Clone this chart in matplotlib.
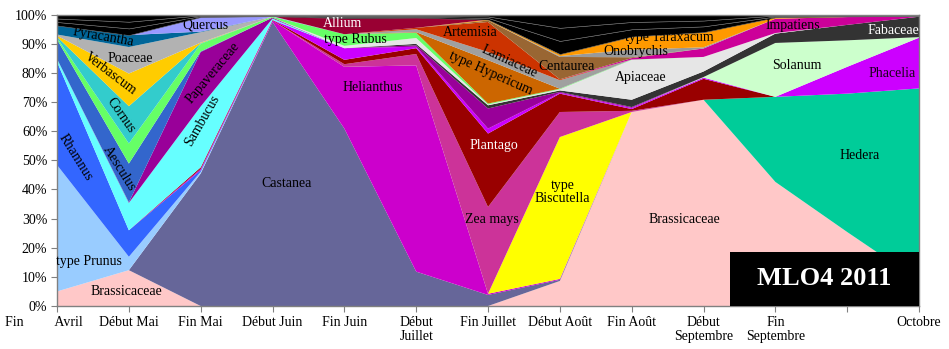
import matplotlib.pyplot as plt
from matplotlib.transforms import ScaledTranslation
from matplotlib.ticker import FuncFormatter

plt.rcParams['font.family'] = ['Liberation Serif', 'DejaVu Serif']

periods = ['Fin         Avril', 'Début Mai', 'Fin Mai', 'Début Juin', 'Fin Juin',
           'Début\nJuillet', 'Fin Juillet', 'Début Août', 'Fin Août',
           'Début\nSeptembre', 'Fin\nSeptembre', '', 'Octobre']

# % of pollen loads per period, bottom of the stack first
brassicaceae = [5.0, 12.3, 0, 0, 0, 0, 0, 8.6, 66.6, 70.8, 42.6, 25.4, 8.7]
castanea     = [0, 0, 45.5, 97.5, 60.9, 11.8, 3.8, 0.4, 0, 0, 0, 0, 0]
prunus       = [43.4, 4.6, 0.6, 0, 0, 0, 0, 0, 0, 0, 0, 0, 0]
rhamnus      = [35.4, 9.1, 0.5, 0, 0, 0, 0, 0, 0, 0, 0, 0, 0]
hedera       = [0, 0, 0, 0, 0, 0, 0, 0, 0, 0, 29.2, 47.5, 66.0]
helianthus   = [0, 0, 0.5, 0.5, 21.2, 70.8, 0.4, 0.3, 0, 0, 0, 0, 0]
biscutella   = [0, 0, 0, 0, 0, 0, 0, 48.7, 0, 0, 0, 0, 0]
zea_mays     = [0, 0, 0, 0, 0.9, 3.9, 29.8, 8.6, 0.4, 0, 0, 0, 0]
plantago     = [0, 0, 0.5, 0.2, 1.5, 2.0, 25.2, 6.3, 0.6, 7.2, 0, 0, 0]
phacelia     = [0, 0, 0, 0, 4.0, 0.5, 1.7, 0.3, 0.4, 0.4, 0, 9.2, 17.4]
solanum      = [0, 0, 0, 0, 0, 0, 0, 0, 0, 0.2, 18.5, 9.1, 0.2]
sambucus     = [1.0, 9.4, 20.9, 0.5, 0, 0, 0, 0, 0, 0, 0, 0, 0]
papaveraceae = [0, 0.2, 18.7, 0.3, 0, 0.5, 6.9, 0.3, 0.3, 0, 0, 0, 0]
aesculus     = [6.7, 13.3, 0.2, 0, 0, 0, 0, 0, 0, 0, 0, 0, 0]
fabaceae     = [0, 0, 0, 0, 0, 0.5, 1.1, 0.5, 2.5, 1.9, 3.2, 5.3, 7.0]
apiaceae     = [0, 0, 0, 0, 0.8, 2.0, 0.3, 0.4, 13.7, 5.0, 0.2, 0, 0]
rubus        = [0.5, 6.9, 2.6, 0.3, 4.0, 1.8, 0.3, 0.2, 0.1, 0, 0, 0, 0]
cornus       = [0.4, 12.8, 0.2, 0, 0, 0, 0, 0, 0, 0, 0, 0, 0]
verbascum    = [0.4, 11.2, 0.2, 0, 0, 0, 0, 0, 0, 0, 0, 0, 0]
poaceae      = [0.4, 9.1, 3.6, 0, 0, 0, 0, 0, 0, 0, 0, 0, 0]
pyracantha   = [3.1, 4.1, 0.2, 0, 0, 0, 0, 0, 0, 0, 0, 0, 0]
quercus      = [0, 0, 5.0, 0.2, 0, 0, 0, 0, 0, 0, 0, 0, 0]
hypericum    = [0, 0, 0, 0, 0, 0.2, 14.9, 0, 0, 0, 0, 0, 0]
lamiaceae    = [0, 0, 0, 0, 0, 1.0, 2.8, 2.9, 0, 0, 0, 0, 0]
artemisia    = [0, 0, 0, 0, 0, 0.5, 10.3, 0.3, 0, 0, 0, 0, 0]
impatiens    = [0, 0, 0, 0, 0, 0, 0, 0, 0.5, 2.9, 4.9, 2.7, 0.3]
centaurea    = [0, 0, 0, 0, 0, 0, 0.5, 7.7, 0.3, 0, 0, 0, 0]
onobrychis   = [0, 0, 0, 0, 0, 0, 0, 0.3, 2.6, 0.4, 0, 0, 0]
taraxacum    = [0, 0, 0, 0, 0, 0, 0.3, 0.7, 4.5, 5.2, 0.5, 0.2, 0]
allium       = [0, 0, 0, 0, 5.5, 3.5, 0, 0, 0, 0, 0, 0, 0]
autres_a     = [1.2, 2.3, 0.3, 0.2, 0.4, 0.3, 0.6, 4.5, 2.5, 2.0, 0.3, 0.2, 0.1]
autres_b     = [1.2, 2.3, 0.3, 0.2, 0.4, 0.3, 0.5, 4.5, 2.5, 2.0, 0.3, 0.2, 0.1]
autres_c     = [1.3, 2.4, 0.2, 0.1, 0.4, 0.4, 0.6, 4.5, 2.5, 2.0, 0.3, 0.2, 0.2]

layers = [
    (brassicaceae, '#FFC8C8'), (castanea, '#666699'), (prunus, '#99CCFF'),
    (rhamnus, '#3366FF'), (hedera, '#00CC99'), (helianthus, '#CC00CC'),
    (biscutella, '#FFFF00'), (zea_mays, '#CC3399'), (plantago, '#990000'),
    (phacelia, '#CC00FF'), (solanum, '#CCFFCC'), (sambucus, '#66FFFF'),
    (papaveraceae, '#990099'), (aesculus, '#3366CC'), (fabaceae, '#333333'),
    (apiaceae, '#E6E6E6'), (rubus, '#66FF66'), (cornus, '#33CCCC'),
    (verbascum, '#FFCC00'), (poaceae, '#B2B2B2'), (pyracantha, '#006699'),
    (quercus, '#9999FF'), (hypericum, '#CC6600'), (lamiaceae, '#A0A0A0'),
    (artemisia, '#CC3300'), (impatiens, '#CC0099'), (centaurea, '#996633'),
    (onobrychis, '#999999'), (taraxacum, '#FF9900'), (allium, '#990033'),
    (autres_a, '#000000'), (autres_b, '#000000'), (autres_c, '#000000'),
]

x = list(range(len(periods)))

fig = plt.figure(figsize=(9.49, 3.49), dpi=100)
ax = fig.add_axes([0.0601, 0.1232, 0.9083, 0.8347])

polys = ax.stackplot(x, [v for v, c in layers], colors=[c for v, c in layers],
                     linewidth=0)
for p in polys[-3:]:
    p.set_edgecolor('#707070')
    p.set_linewidth(0.4)

ax.set_xlim(0, 12)
ax.set_ylim(0, 100)
ax.set_yticks(range(0, 101, 10))
ax.yaxis.set_major_formatter(FuncFormatter(lambda v, pos: '%d%%' % v))
ax.set_xticks(x)
ax.set_xticklabels(periods, fontsize=10, linespacing=1.1)
ax.tick_params(axis='both', direction='out', length=4, color='#808080',
               labelsize=10, pad=3)
for s in ax.spines.values():
    s.set_color('#808080')
    s.set_linewidth(1)
lbl0 = ax.get_xticklabels()[0]
lbl0.set_transform(lbl0.get_transform() + ScaledTranslation(-0.135, 0, fig.dpi_scale_trans))

# taxon labels: text, x, y, rotation, colour
labels = [
    ('Pyracantha', 0.65, 92.4, -10, 'black'),
    ('Quercus', 2.06, 96.3, 0, 'black'),
    ('Poaceae', 1.02, 85.0, 0, 'black'),
    ('Verbascum', 0.75, 79.6, -37, 'black'),
    ('Cornus', 0.88, 65.5, -55, 'black'),
    ('Aesculus', 0.86, 47.3, -58, 'black'),
    ('Rhamnus', 0.25, 51.1, -58, 'black'),
    ('type Prunus', 0.45, 15.4, 0, 'black'),
    ('Brassicaceae', 0.96, 5.1, 0, 'black'),
    ('Sambucus', 2.02, 63.8, 60, 'black'),
    ('Papaveraceae', 2.17, 80.2, 50, 'black'),
    ('Castanea', 3.19, 42.2, 0, 'black'),
    ('Allium', 3.97, 97.0, 0, 'white'),
    ('type Rubus', 4.15, 91.6, 0, 'black'),
    ('Helianthus', 4.39, 75.1, 0, 'black'),
    ('Artemisia', 5.75, 94.0, 0, 'black'),
    ('Lamiaceae', 6.29, 84.0, -25, 'black'),
    ('type Hypericum', 6.03, 79.9, -24, 'black'),
    ('Centaurea', 7.09, 82.3, 0, 'black'),
    ('Plantago', 6.08, 55.2, 0, 'white'),
    ('Zea mays', 6.06, 29.8, 0, 'black'),
    ('type\nBiscutella', 7.04, 39.1, 0, 'black'),
    ('Brassicaceae', 8.73, 29.8, 0, 'black'),
    ('Apiaceae', 8.12, 78.4, 0, 'black'),
    ('Onobrychis', 8.06, 87.4, 0, 'black'),
    ('type Taraxacum', 8.53, 92.2, 0, 'black'),
    ('Impatiens', 10.25, 96.4, 0, 'black'),
    ('Solanum', 10.30, 82.7, 0, 'black'),
    ('Fabaceae', 11.64, 94.7, 0, 'white'),
    ('Phacelia', 11.62, 79.9, 0, '#1A001A'),
    ('Hedera', 11.18, 51.8, 0, 'black'),
]
for txt, lx, ly, rot, col in labels:
    ax.text(lx, ly, txt, rotation=rot, color=col, fontsize=10,
            ha='center', va='center', linespacing=1.0,
            rotation_mode='anchor')

ax.add_patch(plt.Rectangle((0.781, 0), 0.219, 0.185, transform=ax.transAxes,
                           fc='black', ec='none', zorder=3))
ax.text(0.89, 0.093, 'MLO4 2011', transform=ax.transAxes, zorder=4,
        fontsize=19, fontweight='bold', color='white', ha='center', va='center')

fig.savefig('out.png', dpi=100)
